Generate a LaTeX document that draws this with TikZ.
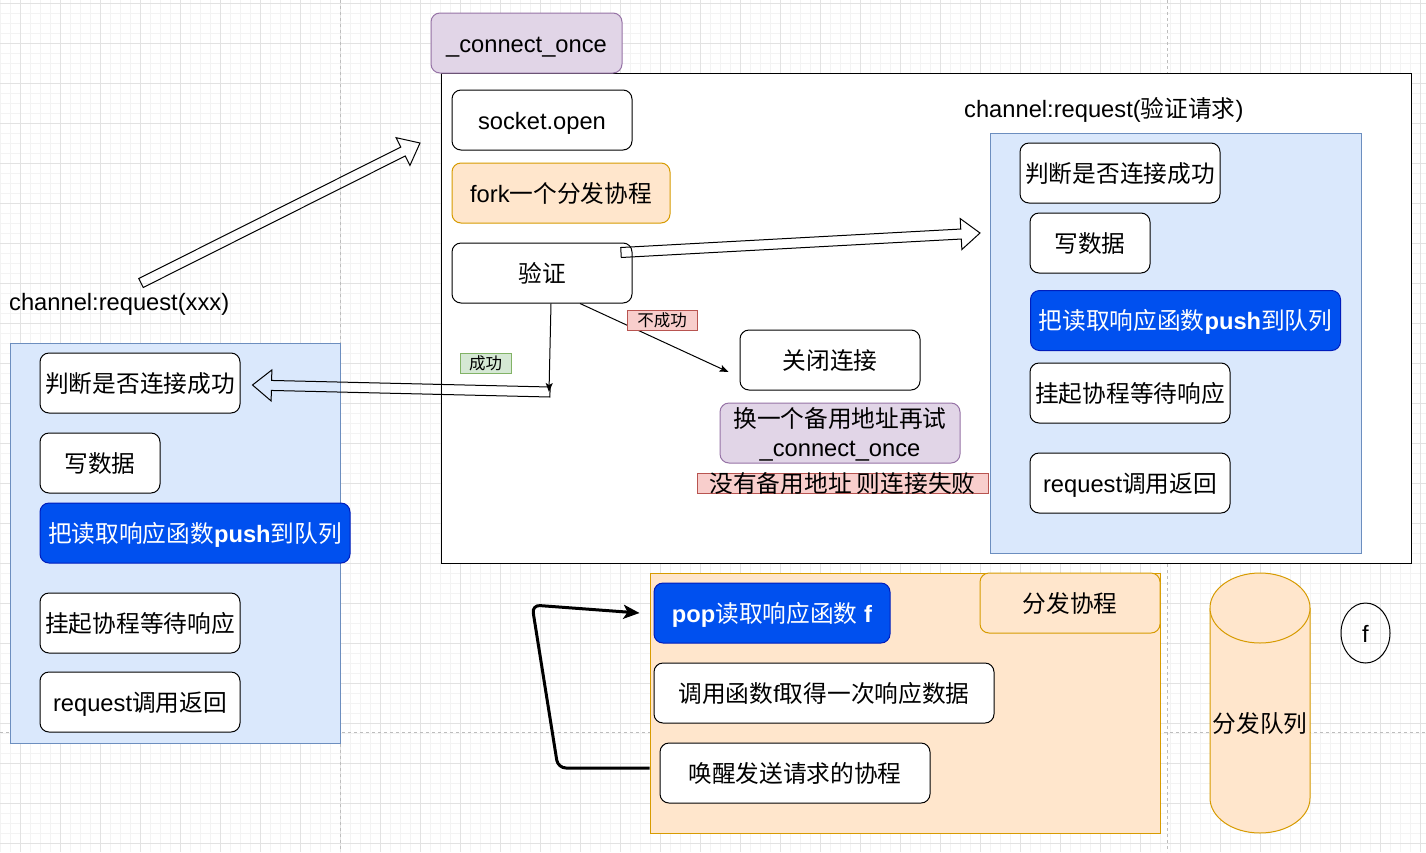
\documentclass[tikz,border=0pt]{standalone}
\usepackage{fontspec}
\setmainfont{Liberation Sans}
\newfontfamily\cjk{Noto Sans CJK SC}
\usetikzlibrary{arrows.meta,calc,shapes.geometric}
\definecolor{purF}{HTML}{E1D5E7}\definecolor{purS}{HTML}{9673A6}
\definecolor{oraF}{HTML}{FFE6CC}\definecolor{oraS}{HTML}{D79B00}
\definecolor{bluF}{HTML}{DAE8FC}\definecolor{bluS}{HTML}{6C8EBF}
\definecolor{dbF}{HTML}{0050EF}\definecolor{dbS}{HTML}{001DBC}
\definecolor{redF}{HTML}{F8CECC}\definecolor{redS}{HTML}{B85450}
\definecolor{grnF}{HTML}{D5E8D4}\definecolor{grnS}{HTML}{82B366}
\definecolor{gridMinor}{HTML}{F3F3F3}\definecolor{gridMajor}{HTML}{E2E2E2}
\definecolor{pageLine}{HTML}{BDBDBD}
\newcommand\zh[1]{{\cjk\mdseries #1}}
\newcommand\flexarrow[2]{%
  \coordinate (fa-h) at ($(#2)!19pt!(#1)$);
  \draw[flexline] ($(#1)!5pt!90:(#2)$) -- ($(fa-h)!5pt!90:(#2)$) -- ($(fa-h)!15.5pt!90:(#2)$)
    -- (#2) -- ($(fa-h)!15.5pt!-90:(#2)$) -- ($(fa-h)!5pt!-90:(#2)$) -- ($(#1)!5pt!-90:(#2)$) -- cycle;}
\begin{document}
\begin{tikzpicture}[x=1pt,y=-1pt,
  base/.style={font=\fontsize{23.7}{28.5}\selectfont, inner sep=0pt, align=center, text=black,
    text height=20pt, text depth=2pt},
  boldbase/.style={base, font=\fontsize{23.7}{28.5}\selectfont\bfseries},
  box/.style={base, draw=black, fill=white, rounded corners=9pt, line width=1pt},
  darkbox/.style={boldbase, draw=dbS, fill=dbF, text=white, rounded corners=9pt, line width=1pt},
  purbox/.style={base, draw=purS, fill=purF, rounded corners=9pt, line width=1pt},
  orabox/.style={base, draw=oraS, fill=oraF, rounded corners=9pt, line width=1pt},
  container/.style={draw=#1S, fill=#1F, line width=1pt, inner sep=0pt},
  tag/.style={font=\fontsize{16.5}{19}\selectfont, inner sep=0pt, line width=1pt,
    text height=14pt, text depth=1.5pt},
  thinarrow/.style={draw=black, line width=1pt, -{Stealth[length=9pt,width=7pt,inset=2pt]}},
  flexline/.style={draw=black, line width=1pt, line join=miter},
  looparrow/.style={draw=black, line width=3pt, rounded corners=8pt, -{Stealth[length=16pt,width=14pt,inset=4pt]}},
  minorline/.style={draw=gridMinor, line width=0.8pt},
  majorline/.style={draw=gridMajor, line width=1pt},
  pageline/.style={draw=pageLine, line width=1pt, dash pattern=on 3pt off 3pt}
]
\useasboundingbox (0,0) rectangle (1426,852);
\fill[white] (0,0) rectangle (1426,852);
% grid
\foreach \x in {0,10,...,1420} \draw[minorline] (\x,0) -- (\x,852);
\foreach \y in {3,13,...,843} \draw[minorline] (0,\y) -- (1426,\y);
\foreach \x in {20,60,...,1420} \draw[majorline] (\x,0) -- (\x,852);
\foreach \y in {3,43,...,843} \draw[majorline] (0,\y) -- (1426,\y);
\draw[pageline] (340,0) -- (340,852);
\draw[pageline] (1167,0) -- (1167,852);
\draw[pageline] (0,732) -- (1426,732);

% left request
\node[base, anchor=west] (cr1) at (9,301) {channel:request(xxx)};
\node[container=blu, minimum width=330pt, minimum height=400pt] (lc) at (175,543) {};
\node[box, minimum width=200pt, minimum height=60pt] (lj) at (140,383) {\zh{判断是否连接成功}};
\node[box, minimum width=120pt, minimum height=60pt] (lw) at (100,463) {\zh{写数据}};
\node[darkbox, minimum width=310pt, minimum height=60pt] (lp) at (195,533) {\zh{把读取响应函数}push\zh{到队列}};
\node[box, minimum width=200pt, minimum height=60pt] (lh) at (140,623) {\zh{挂起协程等待响应}};
\node[box, minimum width=200pt, minimum height=60pt] (lr) at (140,702) {request\zh{调用返回}};

% connect once
\node[draw=black, fill=white, line width=1pt, inner sep=0pt, minimum width=970pt, minimum height=490pt] (big) at (926,318) {};
\node[purbox, minimum width=191pt, minimum height=60pt] (co) at (526.5,43) {\_connect\_once};
\node[box, minimum width=180pt, minimum height=60pt] (so) at (542,120) {socket.open};
\node[orabox, minimum width=218pt, minimum height=60pt] (fk) at (561,193) {fork\zh{一个分发协程}};
\node[box, minimum width=180pt, minimum height=60pt] (yz) at (542,273) {\zh{验证}};
\node[box, minimum width=180pt, minimum height=60pt] (gb) at (830,360) {\zh{关闭连接}};
\node[purbox, minimum width=240pt, minimum height=60pt, text height=48.5pt, text depth=2pt] (hy) at (840,433) {\zh{换一个备用地址再试}\\\_connect\_once};
\node[tag, draw=redS, fill=redF, minimum width=291pt, minimum height=20pt] (mfbox) at (842.5,483) {};
\node[base] (mf) at (mfbox.center) {\zh{没有备用地址 则连接失败}};

% right request
\node[base, anchor=west] (cr2) at (964,108) {channel:request(\zh{验证请求})};
\node[container=blu, minimum width=371pt, minimum height=420pt] (rc) at (1175.5,343) {};
\node[box, minimum width=200pt, minimum height=60pt] (rj) at (1120,173) {\zh{判断是否连接成功}};
\node[box, minimum width=120pt, minimum height=60pt] (rw) at (1090,243) {\zh{写数据}};
\node[darkbox, minimum width=310pt, minimum height=60pt] (rp) at (1185.5,320.5) {\zh{把读取响应函数}push\zh{到队列}};
\node[box, minimum width=200pt, minimum height=60pt] (rh) at (1130,393) {\zh{挂起协程等待响应}};
\node[box, minimum width=200pt, minimum height=60pt] (rr) at (1130,483) {request\zh{调用返回}};

% thin arrows and tags
\coordinate (ok) at (549,392);
\draw[thinarrow] ($(yz.south)+(9,0)$) -- (ok);
\draw[thinarrow] ($(yz.south)+(38,0)$) -- ($(gb.west)+(-11,12)$);
\node[tag, draw=redS, fill=redF, minimum width=70pt, minimum height=20pt] (bcg) at (662,320) {\zh{不成功}};
\node[tag, draw=grnS, fill=grnF, minimum width=51pt, minimum height=20pt] (cg) at (485.5,363) {\zh{成功}};

% block arrows
\coordinate (a1s) at (141,283);
\coordinate (a1e) at (420,143);
\coordinate (a2s) at ($(yz.north east)+(-11.5,10)$);
\coordinate (a2e) at (980,233);
\coordinate (a3s) at (550,392);
\coordinate (a3e) at ($(lj.east)+(12,2)$);
\flexarrow{a1s}{a1e}
\flexarrow{a2s}{a2e}
\flexarrow{a3s}{a3e}

% dispatcher
\node[container=ora, minimum width=510pt, minimum height=260pt] (disp) at (905,703) {};
\node[orabox, minimum width=180pt, minimum height=60pt] (dl) at (1070,603) {\zh{分发协程}};
\node[darkbox, minimum width=236pt, minimum height=60pt] (pop) at (772,613) {pop\zh{读取响应函数} f};
\node[box, minimum width=340pt, minimum height=60pt] (call) at (824,693) {\zh{调用函数}f\zh{取得一次响应数据}};
\node[box, minimum width=270pt, minimum height=60pt] (wake) at (795,773) {\zh{唤醒发送请求的协程}};
\draw[looparrow] ($(disp.west)+(0,65)$) -- (558,768) -- (532,605) -- ($(pop.west)+(-14,0)$);

% queue cylinder
\path[fill=oraF, draw=oraS, line width=1pt] (1210,608) -- (1210,798)
  arc[start angle=180, end angle=360, x radius=50pt, y radius=35pt] -- (1310,608);
\path[fill=oraF, draw=oraS, line width=1pt] (1260,608) ellipse [x radius=50pt, y radius=35pt];
\node[base] (q) at (1260,723) {\zh{分发队列}};

\node[base, draw=black, line width=1pt, ellipse, minimum width=49pt, minimum height=60pt] (f) at (1365.5,633) {f};
\end{tikzpicture}
\end{document}
